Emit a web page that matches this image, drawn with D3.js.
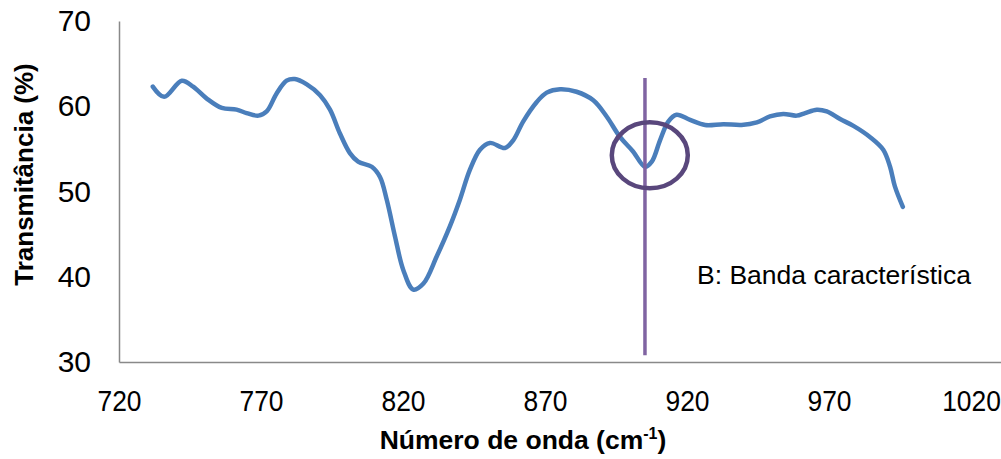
<!DOCTYPE html>
<html>
<head>
<meta charset="utf-8">
<script src="https://cdn.jsdelivr.net/npm/d3@7"></script>
<style>
  html, body { margin: 0; padding: 0; background: #fff; overflow: hidden; }
  svg { display: block; font-family: "Liberation Sans", Arial, sans-serif; }
</style>
</head>
<body>
<svg id="chart" width="1001" height="459"></svg>
<script>
// IR spectrum: wavenumber (cm-1) vs transmittance (%)
const wavenumber = [
  731.9, 735.9, 742.1, 746.1, 750.9, 756.2, 761.4, 764.9, 769.1, 772.0,
  775.5, 779.0, 781.9, 786.0, 790.8, 794.3, 797.8, 801.3, 804.2, 809.0,
  811.9, 814.3, 817.2, 820.1, 823.6, 827.2, 831.9, 836.5, 840.0, 843.5,
  847.1, 850.6, 855.9, 858.8, 862.3, 867.1, 870.6, 875.3, 881.1, 887.0,
  891.7, 896.4, 901.0, 905.2, 907.6, 910.5, 913.4, 916.3, 921.1, 926.4,
  932.8, 939.2, 944.6, 949.2, 953.9, 958.6, 961.6, 965.7, 969.2, 973.9,
  978.6, 984.4, 989.1, 991.5, 993.2, 996.0
];
const transmittance = [
  62.3, 61.1, 63.0, 62.3, 60.9, 59.8, 59.6, 59.2, 58.9, 59.4,
  61.5, 63.0, 63.2, 62.6, 61.3, 59.6, 56.8, 54.5, 53.5, 52.9,
  51.7, 49.0, 44.7, 40.8, 38.5, 39.2, 42.4, 45.9, 49.0, 52.5,
  54.9, 55.7, 55.1, 56.0, 58.2, 60.5, 61.6, 62.0, 61.7, 60.7,
  58.8, 56.4, 54.7, 52.9, 53.5, 56.0, 58.2, 59.0, 58.4, 57.8,
  57.9, 57.8, 58.1, 58.8, 59.1, 58.9, 59.2, 59.6, 59.4, 58.5,
  57.7, 56.4, 54.9, 52.9, 50.6, 48.2
];

// axis ticks
const xTicks = [720, 770, 820, 870, 920, 970, 1020];
const yTicks = [30, 40, 50, 60, 70];

// characteristic band marker
const bandPosition = 905.2;
const bandLineRange = [30.8, 63.3];
const bandCircleCenter = [906.9, 54.25];
const bandLabel = "B: Banda característica";

const svg = d3.select("#chart");

const x = d3.scaleLinear().domain([720, 1070]).range([119, 1113]);
const y = d3.scaleLinear().domain([30, 70]).range([362, 21]);

const axisColor = "#898989";
const fontFamily = "'Liberation Sans', Arial, sans-serif";

// y axis
const yAxis = svg.append("g")
  .attr("transform", `translate(${x(720)},0)`)
  .call(d3.axisLeft(y).tickValues(yTicks).tickSize(0).tickPadding(28).tickFormat(d3.format("d")));
yAxis.select(".domain").attr("stroke", axisColor).attr("stroke-width", 1.5);
yAxis.selectAll("text").attr("font-size", 30).attr("fill", "#000").attr("font-family", fontFamily);

// x axis
const xAxis = svg.append("g")
  .attr("transform", `translate(0,${y(30)})`)
  .call(d3.axisBottom(x).tickValues(xTicks).tickSize(0).tickPadding(27.5).tickFormat(d3.format("d")));
xAxis.select(".domain").attr("stroke", axisColor).attr("stroke-width", 1.5);
xAxis.selectAll("text")
  .attr("font-size", 30).attr("fill", "#000").attr("font-family", fontFamily)
  .attr("transform", "scale(0.88,1)");

// axis titles
svg.append("text")
  .attr("transform", `translate(33,174.5) rotate(-90)`)
  .attr("text-anchor", "middle")
  .attr("font-size", 26).attr("font-weight", "bold").attr("fill", "#000")
  .text("Transmitância (%)");

const xTitle = svg.append("text")
  .attr("x", 523).attr("y", 449)
  .attr("text-anchor", "middle")
  .attr("font-size", 26.5).attr("font-weight", "bold").attr("fill", "#000");
xTitle.append("tspan").text("Número de onda (cm");
xTitle.append("tspan").attr("font-size", 16).attr("dy", -10).text("-1");
xTitle.append("tspan").attr("dy", 10).text(")");

// spectrum
const points = wavenumber.map((w, i) => [w, transmittance[i]]);
const line = d3.line()
  .x(d => x(d[0]))
  .y(d => y(d[1]))
  .curve(d3.curveCatmullRom.alpha(0.5));

svg.append("path")
  .datum(points)
  .attr("d", line)
  .attr("fill", "none")
  .attr("stroke", "#4A7EBB")
  .attr("stroke-width", 4.5)
  .attr("stroke-linecap", "round")
  .attr("stroke-linejoin", "round");

// band marker: vertical line, circle and label
svg.append("line")
  .attr("x1", x(bandPosition)).attr("x2", x(bandPosition))
  .attr("y1", y(bandLineRange[1])).attr("y2", y(bandLineRange[0]))
  .attr("stroke", "#8064A2").attr("stroke-width", 3.5);

svg.append("ellipse")
  .attr("cx", x(bandCircleCenter[0])).attr("cy", y(bandCircleCenter[1]))
  .attr("rx", 38).attr("ry", 33)
  .attr("fill", "none")
  .attr("stroke", "#59477C").attr("stroke-width", 4.5);

svg.append("text")
  .attr("x", 697).attr("y", 284)
  .attr("font-size", 26.5).attr("fill", "#000")
  .text(bandLabel);
</script>
</body>
</html>
